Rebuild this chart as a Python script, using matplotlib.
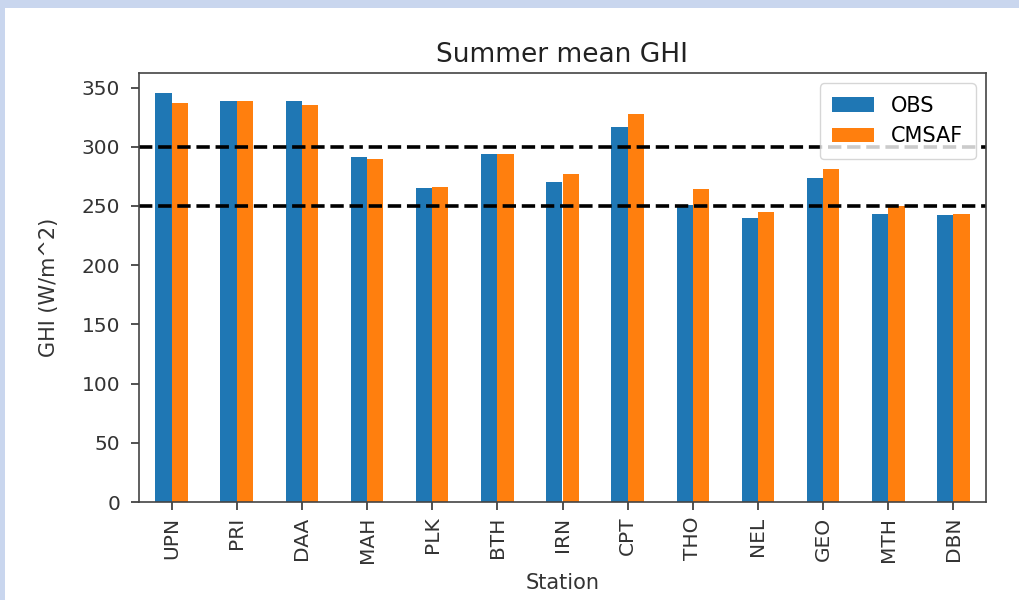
import matplotlib
matplotlib.use("Agg")
import matplotlib.pyplot as plt
import numpy as np
from matplotlib.patches import Rectangle

stations = ["UPN", "PRI", "DAA", "MAH", "PLK", "BTH", "IRN", "CPT", "THO", "NEL", "GEO", "MTH", "DBN"]
obs = [345, 339, 339, 291, 265, 294, 270, 317, 251, 240, 274, 243, 242]
cmsaf = [337, 339, 335, 290, 266, 294, 277, 328, 264, 245, 281, 250, 243]
ref_lines = [250, 300]

fig = plt.figure(figsize=(10.2, 6.0), dpi=100, facecolor="#c9d6ee")
fig.patches.append(Rectangle((5 / 1020, 0), 1, 1 - 8 / 600, transform=fig.transFigure,
                             facecolor="white", edgecolor="none", zorder=-10))

ax = fig.add_axes([139 / 1020, 1 - 502 / 600, (986 - 139) / 1020, (502 - 73) / 600])
x = np.arange(len(stations))
w = 0.25
ax.bar(x - w / 2, obs, width=w, color="#1f77b4", label="OBS")
ax.bar(x + w / 2, cmsaf, width=w, color="#ff7f0e", label="CMSAF")
for v in ref_lines:
    ax.axhline(v, color="black", linestyle="--", linewidth=2.6)

ax.set_xlim(-0.5, len(stations) - 0.5)
ax.set_ylim(0, max(obs + cmsaf) * 1.05)
ax.set_xticks(x)
ax.set_xticklabels(stations, rotation=90)
ax.tick_params(labelsize=14.5, length=5.5, width=1.2, colors="#333333")
ax.tick_params(axis="y", pad=8)
ax.tick_params(axis="x", pad=5)
ax.set_title("Summer mean GHI", fontsize=19, pad=8, color="#222222")
ax.set_xlabel("Station", fontsize=15, color="#333333", labelpad=7)
ax.set_ylabel("GHI (W/m^2)", fontsize=15, color="#333333", labelpad=16)
ax.legend(loc="upper right", fontsize=15, borderpad=0.6)
for s in ax.spines.values():
    s.set_linewidth(1.2)
    s.set_color("#444444")

fig.savefig("out.png", dpi=100, facecolor=fig.get_facecolor())
